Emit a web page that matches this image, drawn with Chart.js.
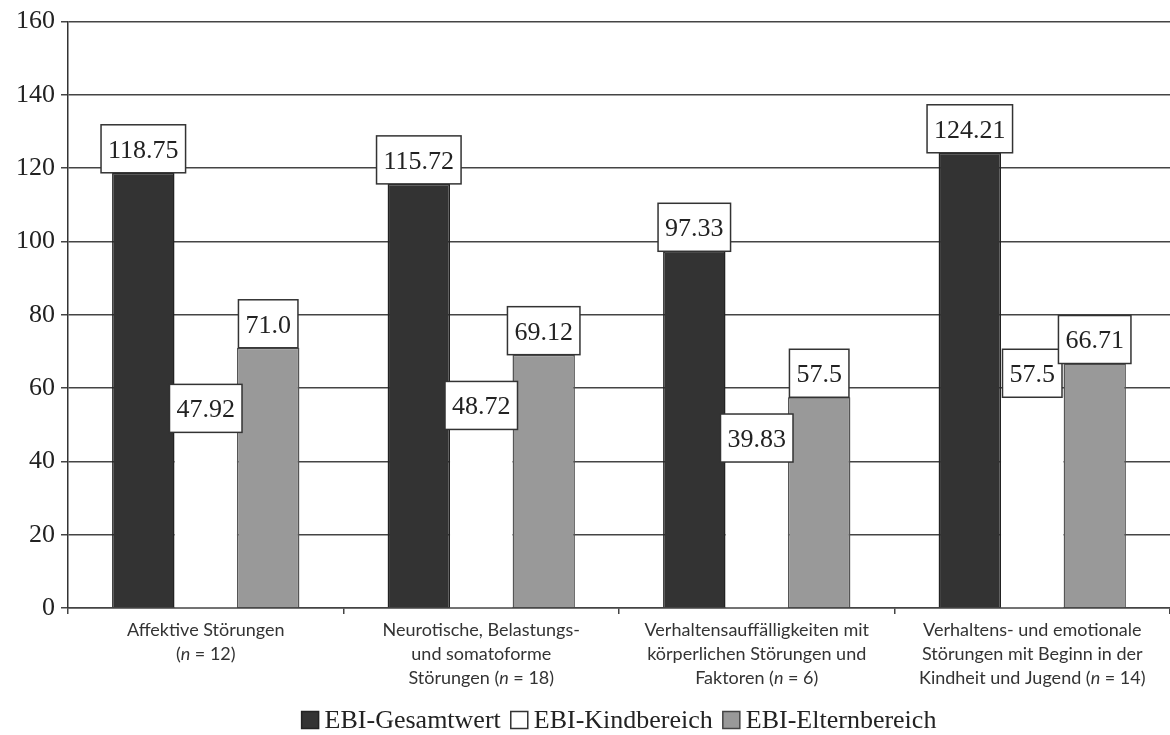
<!DOCTYPE html>
<html>
<head>
<meta charset="utf-8">
<script src="https://cdn.jsdelivr.net/npm/chart.js@4"></script>
<style>
  html, body { margin: 0; padding: 0; background: #fff; }
  #wrap { width: 1170px; height: 735px; }
</style>
</head>
<body>
<div id="wrap"><canvas id="myChart"></canvas></div>
<script>
// categories, one array of lines each; *n* marks italic text
const categories = [
  ['Affektive Störungen', '(*n* = 12)'],
  ['Neurotische, Belastungs-', 'und somatoforme', 'Störungen (*n* = 18)'],
  ['Verhaltensauffälligkeiten mit', 'körperlichen Störungen und', 'Faktoren (*n* = 6)'],
  ['Verhaltens- und emotionale', 'Störungen mit Beginn in der', 'Kindheit und Jugend (*n* = 14)'],
];
const seriesNames = ['EBI-Gesamtwert', 'EBI-Kindbereich', 'EBI-Elternbereich'];
const gesamtwert = [118.75, 115.72, 97.33, 124.21];
const kindbereich = [47.92, 48.72, 39.83, 57.5];
const elternbereich = [71.0, 69.12, 57.5, 66.71];
const yMin = 0;
const yMax = 160;
const yStep = 20;

const SERIF = '"Liberation Serif", "DejaVu Serif", serif';
const SANS = 'Lato, "Open Sans", sans-serif';

const fills = ['#333333', '#ffffff', '#999999'];
const strokes = ['#222222', '#ffffff', '#555555'];
const legendStrokes = ['#222222', '#333333', '#444444'];
const values = [gesamtwert, kindbereich, elternbereich];

function fmt(v) {
  return Number.isInteger(v) ? v.toFixed(1) : String(v);
}

// white boxes with the value, sitting on top of every bar
const boxLabels = {
  id: 'boxLabels',
  afterDatasetsDraw(chart) {
    const ctx = chart.ctx;
    ctx.save();
    ctx.font = '26px ' + SERIF;
    chart.data.datasets.forEach((ds, di) => {
      chart.getDatasetMeta(di).data.forEach((bar, i) => {
        const txt = fmt(ds.data[i]);
        const w = ctx.measureText(txt).width + 14;
        const h = 48;
        const x = bar.x - w / 2;
        const y = bar.y - h;
        ctx.fillStyle = '#fff';
        ctx.fillRect(x, y, w, h);
        ctx.strokeStyle = '#333';
        ctx.lineWidth = 1.5;
        ctx.strokeRect(x, y, w, h);
        ctx.fillStyle = '#222';
        ctx.textAlign = 'center';
        ctx.textBaseline = 'middle';
        ctx.fillText(txt, bar.x, y + h / 2 + 2);
      });
    });
    ctx.restore();
  },
};

// category labels, drawn by hand so the "n" can be italic
const xLabels = {
  id: 'xLabels',
  afterDraw(chart) {
    const ctx = chart.ctx;
    const xs = chart.scales.x;
    const top = chart.chartArea.bottom + 22;
    ctx.save();
    ctx.fillStyle = '#333';
    ctx.textBaseline = 'middle';
    ctx.textAlign = 'left';
    categories.forEach((lines, i) => {
      const cx = xs.getPixelForTick(i);
      lines.forEach((line, li) => {
        const parts = line.split('*').map((t, k) => ({ t, italic: k % 2 === 1 }));
        let total = 0;
        parts.forEach((p) => {
          ctx.font = (p.italic ? 'italic ' : '') + '18px ' + SANS;
          p.w = ctx.measureText(p.t).width;
          total += p.w;
        });
        let x = cx - total / 2;
        const y = top + li * 24;
        parts.forEach((p) => {
          ctx.font = (p.italic ? 'italic ' : '') + '18px ' + SANS;
          ctx.fillText(p.t, x, y);
          x += p.w;
        });
      });
    });
    ctx.restore();
  },
};

// compact legend under the labels
const bottomLegend = {
  id: 'bottomLegend',
  afterDraw(chart) {
    const ctx = chart.ctx;
    const area = chart.chartArea;
    const box = 17;
    const gapText = 6;
    const gapItem = 10;
    const y = 720;
    ctx.save();
    ctx.font = '26px ' + SERIF;
    const widths = seriesNames.map((n) => ctx.measureText(n).width);
    let total = 0;
    widths.forEach((w, i) => {
      total += box + gapText + w + (i < widths.length - 1 ? gapItem : 0);
    });
    let x = (area.left + area.right) / 2 - total / 2;
    ctx.textBaseline = 'middle';
    ctx.textAlign = 'left';
    seriesNames.forEach((name, i) => {
      ctx.fillStyle = fills[i];
      ctx.fillRect(x, y - box / 2, box, box);
      ctx.strokeStyle = legendStrokes[i];
      ctx.lineWidth = 1.5;
      ctx.strokeRect(x, y - box / 2, box, box);
      x += box + gapText;
      ctx.fillStyle = '#222';
      ctx.fillText(name, x, y + 1);
      x += widths[i] + gapItem;
    });
    ctx.restore();
  },
};

const chartData = {
  labels: categories,
  datasets: seriesNames.map((name, i) => ({
    label: name,
    data: values[i],
    backgroundColor: fills[i],
    borderColor: strokes[i],
    borderWidth: i === 1 ? 0 : 1.5,
    barPercentage: 1,
    categoryPercentage: 0.68,
  })),
};

const config = {
  type: 'bar',
  data: chartData,
  options: {
    responsive: true,
    maintainAspectRatio: false,
    animation: false,
    layout: { padding: { top: 8, right: 0, left: 10, bottom: 45 } },
    plugins: {
      tooltip: { enabled: false },
      legend: { display: false },
    },
    scales: {
      x: {
        offset: true,
        afterFit(scale) {
          scale.height = 82;
        },
        grid: {
          display: true,
          drawOnChartArea: false,
          offset: true,
          tickLength: 6,
          color: '#444',
          lineWidth: 1.5,
        },
        border: { color: '#444', width: 1.5 },
        ticks: {
          color: 'transparent',
          font: { family: SANS, size: 17, lineHeight: 1.41 },
          padding: 6,
        },
      },
      y: {
        min: yMin,
        max: yMax,
        ticks: {
          stepSize: yStep,
          color: '#222',
          font: { family: SERIF, size: 26 },
          padding: 6,
        },
        grid: { color: '#444', lineWidth: 1.5, tickLength: 7 },
        border: { color: '#333', width: 1.5 },
      },
    },
  },
  plugins: [boxLabels, xLabels, bottomLegend],
};

const myChart = new Chart(document.querySelector('#myChart'), config);
</script>
</body>
</html>
